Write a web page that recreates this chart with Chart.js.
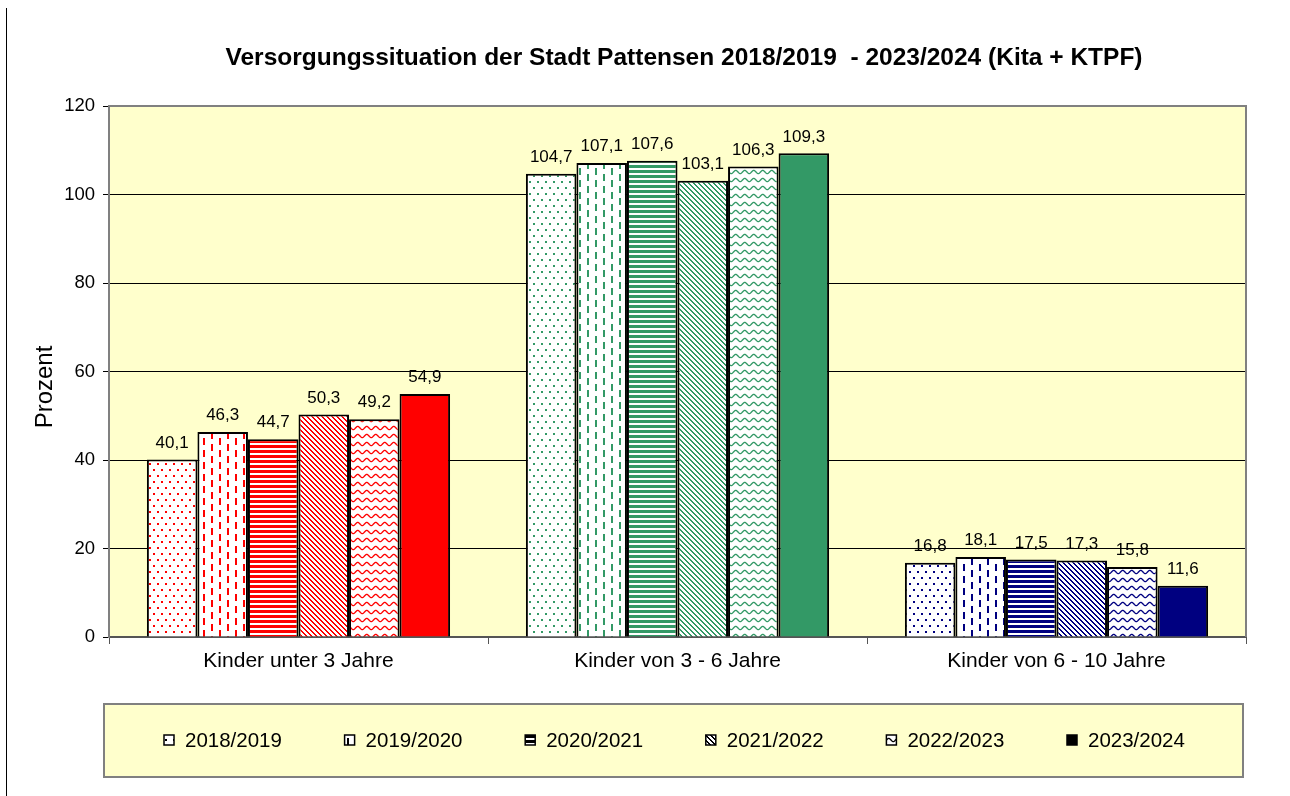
<!DOCTYPE html>
<html lang="de">
<head>
<meta charset="utf-8">
<title>Versorgungssituation Pattensen</title>
<script src="https://cdn.jsdelivr.net/npm/chart.js@4.4.1/dist/chart.umd.min.js"></script>
<style>
  html, body { margin: 0; padding: 0; background: #fff; }
  #wrap { position: relative; width: 1290px; height: 796px; }
  #leftLine { position: absolute; left: 6px; top: 8px; width: 1px; height: 788px; background: #000; }
  canvas { position: absolute; left: 0; top: 0; }
</style>
</head>
<body>
<div id="wrap">
  <canvas id="chart" width="1290" height="796"></canvas>
  <div id="leftLine"></div>
</div>
<script>
// Kategorien (Altersgruppen)
const categories = ["Kinder unter 3 Jahre", "Kinder von 3 - 6 Jahre", "Kinder von 6 - 10 Jahre"];

// Kita-Jahre
const years = ["2018/2019", "2019/2020", "2020/2021", "2021/2022", "2022/2023", "2023/2024"];

// Versorgungsquote in Prozent je Jahr
const v2018 = [40.1, 104.7, 16.8];
const v2019 = [46.3, 107.1, 18.1];
const v2020 = [44.7, 107.6, 17.5];
const v2021 = [50.3, 103.1, 17.3];
const v2022 = [49.2, 106.3, 15.8];
const v2023 = [54.9, 109.3, 11.6];
const values = [v2018, v2019, v2020, v2021, v2022, v2023];

// Y-Achse
const yTicks = [0, 20, 40, 60, 80, 100, 120];

const FONT = '"Liberation Sans", Arial, sans-serif';
const groupColors = ["#FF0000", "#339966", "#000080"];
const patternKinds = ["dots", "dashes", "stripes", "diagonal", "wave", "solid"];

const canvas = document.getElementById("chart");
const ctx = canvas.getContext("2d");

// Muster wie im Excel-Diagramm
function makePattern(kind, color) {
  if (kind === "solid") return color;
  const c = document.createElement("canvas");
  const g = c.getContext("2d");
  let w = 8, h = 8;
  if (kind === "dots") { w = 8; h = 12; }
  if (kind === "dashes") { w = 16; h = 12; }
  if (kind === "stripes") { w = 4; h = 5; }
  if (kind === "diagonal") { w = 5; h = 5; }
  if (kind === "wave") { w = 9; h = 8; }
  c.width = w;
  c.height = h;
  g.fillStyle = "#fff";
  g.fillRect(0, 0, w, h);
  g.fillStyle = color;
  g.strokeStyle = color;
  if (kind === "dots") {
    g.fillRect(1, 1, 2, 2);
    g.fillRect(5, 7, 2, 2);
  } else if (kind === "dashes") {
    g.fillRect(3, 0, 2, 7);
    g.fillRect(11, 6, 2, 7);
    g.fillRect(11, 0, 2, 1);
  } else if (kind === "stripes") {
    g.fillRect(0, 0, w, 3);
  } else if (kind === "diagonal") {
    for (let x = 0; x < w; x++) {
      for (let y = 0; y < h; y++) {
        if ((((x - y) % 5) + 5) % 5 < 2) g.fillRect(x, y, 1, 1);
      }
    }
  } else if (kind === "wave") {
    g.lineWidth = 1.3;
    g.beginPath();
    for (let x = -1; x <= w + 1; x += 0.5) {
      const y = 4 + 1.6 * Math.sin((2 * Math.PI * x) / w);
      if (x === -1) g.moveTo(x, y);
      else g.lineTo(x, y);
    }
    g.stroke();
  }
  return ctx.createPattern(c, "repeat");
}

const datasets = years.map((year, i) => ({
  label: year,
  data: values[i],
  backgroundColor: groupColors.map((col) => makePattern(patternKinds[i], col)),
  legendFill: makePattern(patternKinds[i], "#000"),
  borderColor: "#000",
  borderWidth: 2,
  borderSkipped: "bottom",
  categoryPercentage: 0.8,
  barPercentage: 1.0,
}));

const formatValue = (v) => v.toLocaleString("de-DE", { minimumFractionDigits: 1, maximumFractionDigits: 1 });

// Hintergrund des Diagrammbereichs
const plotBackground = {
  id: "plotBackground",
  beforeDraw(chart) {
    const { ctx, chartArea: a } = chart;
    ctx.save();
    ctx.fillStyle = "#FFFFCC";
    ctx.fillRect(a.left, a.top, a.right - a.left, a.bottom - a.top);
    ctx.restore();
  },
  afterDraw(chart) {
    const { ctx, chartArea: a } = chart;
    ctx.save();
    ctx.strokeStyle = "#808080";
    ctx.lineWidth = 2;
    ctx.beginPath();
    ctx.moveTo(a.left, a.top);
    ctx.lineTo(a.right, a.top);
    ctx.lineTo(a.right, a.bottom);
    ctx.stroke();
    ctx.restore();
  },
};

// Werte über den Balken
const valueLabels = {
  id: "valueLabels",
  afterDatasetsDraw(chart) {
    const { ctx } = chart;
    ctx.save();
    ctx.font = "17px " + FONT;
    ctx.fillStyle = "#000";
    ctx.textAlign = "center";
    ctx.textBaseline = "bottom";
    chart.data.datasets.forEach((ds, i) => {
      chart.getDatasetMeta(i).data.forEach((bar, j) => {
        ctx.fillText(formatValue(ds.data[j]), bar.x, bar.y - 8);
      });
    });
    ctx.restore();
  },
};

// Titel, Achsentitel und Legende
const decorations = {
  id: "decorations",
  afterDraw(chart) {
    const { ctx } = chart;
    ctx.save();
    ctx.fillStyle = "#000";
    ctx.textAlign = "center";
    ctx.textBaseline = "middle";
    ctx.font = "bold 24.5px " + FONT;
    ctx.fillText("Versorgungssituation der Stadt Pattensen 2018/2019  - 2023/2024 (Kita + KTPF)", 684, 58);

    ctx.save();
    ctx.translate(45, 387);
    ctx.rotate(-Math.PI / 2);
    ctx.font = "24px " + FONT;
    ctx.fillText("Prozent", 0, 0);
    ctx.restore();

    // Legende
    ctx.fillStyle = "#FFFFCC";
    ctx.fillRect(104, 704, 1139, 73);
    ctx.strokeStyle = "#808080";
    ctx.lineWidth = 2;
    ctx.strokeRect(104, 704, 1139, 73);
    ctx.font = "20.5px " + FONT;
    ctx.textAlign = "left";
    chart.data.datasets.forEach((ds, i) => {
      const x = 164 + i * 180.6;
      const y = 740;
      ctx.fillStyle = ds.legendFill;
      ctx.fillRect(x, y - 5, 10, 10);
      ctx.strokeStyle = "#000";
      ctx.lineWidth = 1.5;
      ctx.strokeRect(x, y - 5, 10, 10);
      ctx.fillStyle = "#000";
      ctx.fillText(ds.label, x + 21, y + 1);
    });
    ctx.restore();
  },
};

new Chart(ctx, {
  type: "bar",
  data: {
    labels: categories,
    datasets: datasets,
  },
  options: {
    responsive: false,
    animation: false,
    layout: {
      padding: { top: 106, right: 44, bottom: 0, left: 0 },
    },
    plugins: {
      legend: { display: false },
      title: { display: false },
      tooltip: { enabled: false },
    },
    scales: {
      x: {
        afterFit(scale) { scale.height = 796 - 637; },
        grid: {
          display: true,
          drawOnChartArea: false,
          drawTicks: true,
          tickLength: 7,
          tickColor: "#555",
          offset: true,
        },
        border: { color: "#555", width: 2 },
        ticks: {
          color: "#000",
          font: { family: FONT, size: 21 },
          padding: 5,
        },
      },
      y: {
        min: 0,
        max: 120,
        afterFit(scale) { scale.width = 109; },
        afterBuildTicks(scale) { scale.ticks = yTicks.map((v) => ({ value: v })); },
        grid: {
          color: (c) => (c.tick && (c.tick.value === 120 || c.tick.value === 0) ? "rgba(0,0,0,0)" : "#000"),
          lineWidth: 1,
          tickLength: 6,
          tickColor: "#000",
        },
        border: { color: "#808080", width: 2 },
        ticks: {
          color: "#000",
          font: { family: FONT, size: 18.5 },
          padding: 8,
        },
      },
    },
  },
  plugins: [plotBackground, valueLabels, decorations],
});
</script>
</body>
</html>
